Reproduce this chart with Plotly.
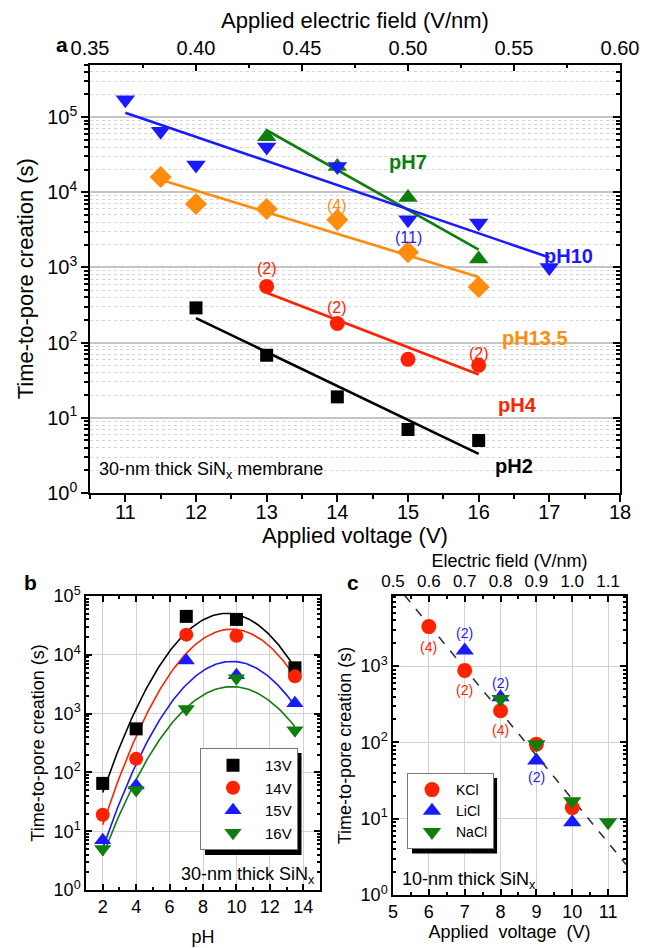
import numpy as np
import plotly.graph_objects as go

FONT = "Liberation Sans, Arial, sans-serif"

# ---------------- Panel a : 30-nm SiNx, time vs applied voltage ----------------
volt_ph2 = [12, 13, 14, 15, 16]
time_ph2 = [290, 68, 19, 7, 5]
volt_ph4 = [13, 14, 15, 16]
time_ph4 = [560, 180, 60, 50]
volt_ph7 = [13, 14, 15, 16]
time_ph7 = [55000, 22000, 8500, 1300]
volt_ph10 = [11, 11.5, 12, 13, 14, 15, 16, 17]
time_ph10 = [170000, 65000, 23000, 40000, 22000, 4300, 3900, 1000]
volt_ph135 = [11.5, 12, 13, 14, 15, 16]
time_ph135 = [16000, 7000, 6000, 4300, 1600, 550]
thickness_a_nm = 30

# ---------------- Panel b : time vs pH at fixed voltages ----------------
ph_values = [2, 4, 7, 10, 13.5]
time_13v = [65, 550, 45000, 40000, 6000]
time_14v = [19, 170, 22000, 21000, 4300]
time_15v = [7, 60, 8000, 4500, 1500]
time_16v = [5, 50, 1200, 4000, 520]

# ---------------- Panel c : 10-nm SiNx, different salts ----------------
volt_kcl = [6, 7, 8, 9, 10]
time_kcl = [3300, 880, 260, 95, 14]
volt_licl = [7, 8, 9, 10]
time_licl = [1600, 390, 58, 9]
volt_nacl = [8, 9, 10, 11]
time_nacl = [370, 95, 17, 9]
thickness_c_nm = 10

# tick labels
decades_a = [0, 1, 2, 3, 4, 5]
decades_b = [0, 1, 2, 3, 4, 5]
decades_c = [0, 1, 2, 3]

BLACK = "#000000"
RED = "#FF2200"
BLUE = "#1A1AFF"
GREEN = "#0E7E0E"
ORANGE = "#FF8C0A"


def log_fit(x, y, deg, xs):
    coef = np.polyfit(np.asarray(x, float), np.log10(np.asarray(y, float)), deg)
    return 10 ** np.polyval(coef, xs)


def pow_labels(decs):
    return [10.0 ** d for d in decs], ["10<sup>%d</sup>" % d for d in decs]


def minor_vals(top):
    return [m * 10.0 ** e for e in range(0, top + 1) for m in range(2, 10)]


fig = go.Figure()

# ---------- panel a traces ----------
series_a = [
    ("pH2", volt_ph2, time_ph2),
    ("pH4", volt_ph4, time_ph4),
    ("pH13.5", volt_ph135, time_ph135),
    ("pH7", volt_ph7, time_ph7),
    ("pH10", volt_ph10, time_ph10),
]
style_a = {
    "pH2": (BLACK, "square", 13),
    "pH4": (RED, "circle", 15),
    "pH13.5": (ORANGE, "diamond", 17),
    "pH7": (GREEN, "triangle-up", 17),
    "pH10": (BLUE, "triangle-down", 17),
}
for name, v, t in series_a:
    color, sym, size = style_a[name]
    xs = np.array([min(v), max(v)], float)
    fig.add_trace(go.Scatter(x=xs, y=log_fit(v, t, 1, xs), mode="lines",
                             line=dict(color=color, width=2.6), xaxis="x", yaxis="y",
                             showlegend=False, hoverinfo="skip"))
for name, v, t in series_a:
    color, sym, size = style_a[name]
    fig.add_trace(go.Scatter(x=v, y=t, mode="markers", name=name,
                             marker=dict(symbol=sym, size=size, color=color),
                             xaxis="x", yaxis="y", showlegend=False))

# invisible companions so that the secondary axes are drawn
fig.add_trace(go.Scatter(x=np.array(volt_ph10) / thickness_a_nm, y=time_ph10, xaxis="x2", yaxis="y",
                         mode="markers", marker=dict(opacity=0), showlegend=False, hoverinfo="skip"))
fig.add_trace(go.Scatter(x=volt_ph10, y=time_ph10, xaxis="x", yaxis="y2",
                         mode="markers", marker=dict(opacity=0), showlegend=False, hoverinfo="skip"))

# ---------- panel b traces ----------
series_b = [("13V", time_13v, BLACK, "square", 13),
            ("14V", time_14v, RED, "circle", 14),
            ("15V", time_15v, BLUE, "triangle-up", 15),
            ("16V", time_16v, GREEN, "triangle-down", 15)]
ph_fine = np.linspace(min(ph_values), max(ph_values), 150)
for name, t, color, sym, size in series_b:
    fig.add_trace(go.Scatter(x=ph_fine, y=log_fit(ph_values, t, 2, ph_fine), mode="lines",
                             line=dict(color=color, width=1.6), xaxis="x3", yaxis="y3",
                             showlegend=False, hoverinfo="skip"))
for name, t, color, sym, size in series_b:
    fig.add_trace(go.Scatter(x=ph_values, y=t, mode="markers", name=name,
                             marker=dict(symbol=sym, size=size, color=color),
                             xaxis="x3", yaxis="y3", legend="legend"))

# ---------- panel c traces ----------
v_line = np.array([5.0, 11.5])
fig.add_trace(go.Scatter(x=v_line, y=log_fit(volt_kcl, time_kcl, 1, v_line), mode="lines",
                         line=dict(color="#333333", width=1.6, dash="dash"), xaxis="x4", yaxis="y4",
                         showlegend=False, hoverinfo="skip"))
series_c = [("KCl", volt_kcl, time_kcl, RED, "circle", 15),
            ("LiCl", volt_licl, time_licl, BLUE, "triangle-up", 16),
            ("NaCl", volt_nacl, time_nacl, GREEN, "triangle-down", 16)]
for name, v, t, color, sym, size in series_c:
    fig.add_trace(go.Scatter(x=v, y=t, mode="markers", name=name,
                             marker=dict(symbol=sym, size=size, color=color),
                             xaxis="x4", yaxis="y4", legend="legend2"))
fig.add_trace(go.Scatter(x=np.array(volt_kcl) / thickness_c_nm, y=time_kcl, xaxis="x5", yaxis="y4",
                         mode="markers", marker=dict(opacity=0), showlegend=False, hoverinfo="skip"))

# ---------- geometry (page body has an 8 px margin) ----------
OFF = 8
W, H = 653 - OFF, 948 - OFF


def px(x):
    return (x - OFF) / W


def py(y):
    return 1 - (y - OFF) / H


def dx(p0, p1):
    return [px(p0), px(p1)]


def dy(top, bottom):
    return [py(bottom), py(top)]


AX = dict(showline=True, linecolor="black", linewidth=1.5, tickcolor="black", tickwidth=1.5,
          zeroline=False, color="black", automargin=False)
GRID_B = "#d2d2d2"

tv_a, tt_a = pow_labels(decades_a)
tv_b, tt_b = pow_labels(decades_b)
tv_c, tt_c = pow_labels(decades_c)


# legend boxes: estimated size of a plotly vertical legend (for the drop shadow)
def legend_box(left, top, n_items, font_size, item_width, text_width):
    h = n_items * (max(1.3 * font_size, 16) + 3) + 2 * (1 + 5)
    w = text_width + 5 + item_width + 10 + 2
    return (left, top, left + w, top + h)


LEG_B_FONT, LEG_B_IW = 15, 54
LEG_C_FONT, LEG_C_IW = 14, 38
LEG_B = legend_box(200, 748, 4, LEG_B_FONT, LEG_B_IW, 1.70 * LEG_B_FONT)
LEG_C = legend_box(407, 773, 3, LEG_C_FONT, LEG_C_IW, 2.15 * LEG_C_FONT)

fig.update_layout(
    width=W, height=H, margin=dict(l=0, r=0, t=0, b=0, autoexpand=False),
    paper_bgcolor="white", plot_bgcolor="white",
    font=dict(family=FONT, color="black"),
    # panel a
    xaxis=dict(AX, domain=dx(90, 620), anchor="y", range=[10.5, 18], tick0=11, dtick=1,
               ticks="outside", ticklen=7, showgrid=False, mirror=False, ticklabelstandoff=-7,
               minor=dict(dtick=0.5, ticks="outside", ticklen=4, tickcolor="black"),
               tickfont=dict(size=20),
               title=dict(text="Applied voltage (V)", font=dict(size=22), standoff=2)),
    xaxis2=dict(AX, overlaying="x", anchor="y", side="top",
                range=[10.5 / thickness_a_nm, 18 / thickness_a_nm], tick0=0.35, dtick=0.05,
                tickformat=".2f", ticks="inside", ticklen=7, showgrid=False,
                minor=dict(dtick=0.025, ticks="inside", ticklen=4, tickcolor="black"),
                tickfont=dict(size=20),
                title=dict(text="Applied electric field (V/nm)", font=dict(size=22), standoff=4)),
    yaxis=dict(AX, domain=dy(64.5, 493), anchor="x", type="log", range=[0, 5.7],
               tickmode="array", tickvals=tv_a, ticktext=tt_a, ticks="outside", ticklen=7,
               showgrid=True, gridcolor="#c4c4c4", gridwidth=1.5, mirror=False,
               minor=dict(tickmode="array", tickvals=minor_vals(5), ticks="outside", ticklen=4,
                          tickcolor="black", showgrid=True, griddash="dot", gridcolor="#d4d4d4",
                          gridwidth=1),
               tickfont=dict(size=20),
               title=dict(text="Time-to-pore creation (s)", font=dict(size=22), standoff=8)),
    yaxis2=dict(AX, overlaying="y", anchor="x", side="right", type="log", range=[0, 5.7],
                tickmode="array", tickvals=tv_a, showticklabels=False, ticks="inside", ticklen=7,
                showgrid=False,
                minor=dict(tickmode="array", tickvals=minor_vals(5), ticks="inside", ticklen=4,
                           tickcolor="black", showgrid=False)),
    # panel b
    xaxis3=dict(AX, domain=dx(86, 320), anchor="y3", range=[1, 15], tick0=2, dtick=2,
                ticks="inside", ticklen=6, mirror="ticks", showgrid=True, gridcolor=GRID_B,
                minor=dict(dtick=1, ticks="inside", ticklen=3, tickcolor="black"),
                tickfont=dict(size=18),
                title=dict(text="pH", font=dict(size=18), standoff=14)),
    yaxis3=dict(AX, domain=dy(596, 890), anchor="x3", type="log", range=[0, 5],
                tickmode="array", tickvals=tv_b, ticktext=tt_b, ticks="inside", ticklen=6,
                mirror="ticks", showgrid=True, gridcolor=GRID_B,
                minor=dict(tickmode="array", tickvals=minor_vals(4), ticks="inside", ticklen=3,
                           tickcolor="black"),
                tickfont=dict(size=18),
                title=dict(text="Time-to-pore creation (s)", font=dict(size=18), standoff=4)),
    # panel c
    xaxis4=dict(AX, domain=dx(393, 626), anchor="y4", range=[5, 11.5], tick0=5, dtick=1,
                ticks="inside", ticklen=6, mirror=False, showgrid=True, gridcolor=GRID_B,
                minor=dict(dtick=0.5, ticks="inside", ticklen=3, tickcolor="black"),
                tickfont=dict(size=18),
                title=dict(text="Applied&#160;&#160;voltage&#160;&#160;(V)", font=dict(size=18), standoff=0)),
    xaxis5=dict(AX, overlaying="x4", anchor="y4", side="top",
                range=[5 / thickness_c_nm, 11.5 / thickness_c_nm], tick0=0.5, dtick=0.1,
                tickformat=".1f", ticks="inside", ticklen=6, showgrid=False,
                minor=dict(dtick=0.05, ticks="inside", ticklen=3, tickcolor="black"),
                tickfont=dict(size=17),
                title=dict(text="Electric field (V/nm)", font=dict(size=18), standoff=0)),
    yaxis4=dict(AX, domain=dy(596, 895), anchor="x4", type="log", range=[0, 3.92],
                tickmode="array", tickvals=tv_c, ticktext=tt_c, ticks="inside", ticklen=6,
                mirror="ticks", showgrid=True, gridcolor=GRID_B,
                minor=dict(tickmode="array", tickvals=minor_vals(3), ticks="inside", ticklen=3,
                           tickcolor="black"),
                tickfont=dict(size=18),
                title=dict(text="Time-to-pore creation (s)", font=dict(size=18), standoff=4)),
    legend=dict(x=px(LEG_B[0]), y=py(LEG_B[1]), xanchor="left", yanchor="top", bgcolor="white",
                bordercolor="#777777", borderwidth=1, font=dict(size=LEG_B_FONT), itemwidth=LEG_B_IW,
                tracegroupgap=0),
    legend2=dict(x=px(LEG_C[0]), y=py(LEG_C[1]), xanchor="left", yanchor="top", bgcolor="white",
                 bordercolor="#777777", borderwidth=1, font=dict(size=LEG_C_FONT), itemwidth=LEG_C_IW,
                 tracegroupgap=0),
)

# legend drop shadows
shadow = 5
for (l, t, r, b) in [LEG_B, LEG_C]:
    fig.add_shape(type="rect", xref="paper", yref="paper",
                  x0=px(l + shadow), x1=px(r + shadow), y0=py(b + shadow), y1=py(t + shadow),
                  fillcolor="black", line=dict(width=0), layer="above")

ann = []


def txt(text, x, y, color, size, bold=False, xref="x", yref="y", xanchor="center", yanchor="middle"):
    ann.append(dict(text=("<b>%s</b>" % text) if bold else text, x=x, y=y, xref=xref, yref=yref,
                    showarrow=False, font=dict(color=color, size=size, family=FONT),
                    xanchor=xanchor, yanchor=yanchor))


# panel a series labels
txt("pH7", 15.0, 4.40, GREEN, 20, True)
txt("pH10", 17.27, 3.15, BLUE, 20, True)
txt("pH13.5", 16.8, 2.06, ORANGE, 20, True)
txt("pH4", 16.55, 1.17, RED, 20, True)
txt("pH2", 16.5, 0.36, BLACK, 20, True)
# panel a counts
txt("(2)", 13, 2.99, RED, 16)
txt("(2)", 14, 2.47, RED, 16)
txt("(2)", 16, 1.86, RED, 16)
txt("(4)", 14, 3.83, ORANGE, 16)
txt("(11)", 15, 3.40, BLUE, 16)
txt("30-nm thick SiN<sub>x</sub> membrane", px(97), py(470), BLACK, 18, xref="paper", yref="paper",
    xanchor="left")
# panel b
txt("30-nm thick SiN<sub>x</sub>", px(317), py(875), BLACK, 18, xref="paper", yref="paper",
    xanchor="right")
# panel c counts
for lab, x, y, c in [("(4)", 6, 3.25, RED), ("(2)", 7, 2.69, RED), ("(4)", 8, 2.16, RED),
                     ("(2)", 7, 3.43, BLUE), ("(2)", 8, 2.78, BLUE), ("(2)", 9, 1.55, BLUE)]:
    txt(lab, x, y, c, 14, xref="x4", yref="y4")
txt("10-nm thick SiN<sub>x</sub>", px(400), py(880), BLACK, 18, xref="paper", yref="paper",
    xanchor="left")
# panel letters
txt("a", px(62), py(45), BLACK, 21, True, xref="paper", yref="paper")
txt("b", px(30), py(582), BLACK, 21, True, xref="paper", yref="paper")
txt("c", px(353), py(582), BLACK, 21, True, xref="paper", yref="paper")

fig.update_layout(annotations=ann)
fig.write_html("out.html")
